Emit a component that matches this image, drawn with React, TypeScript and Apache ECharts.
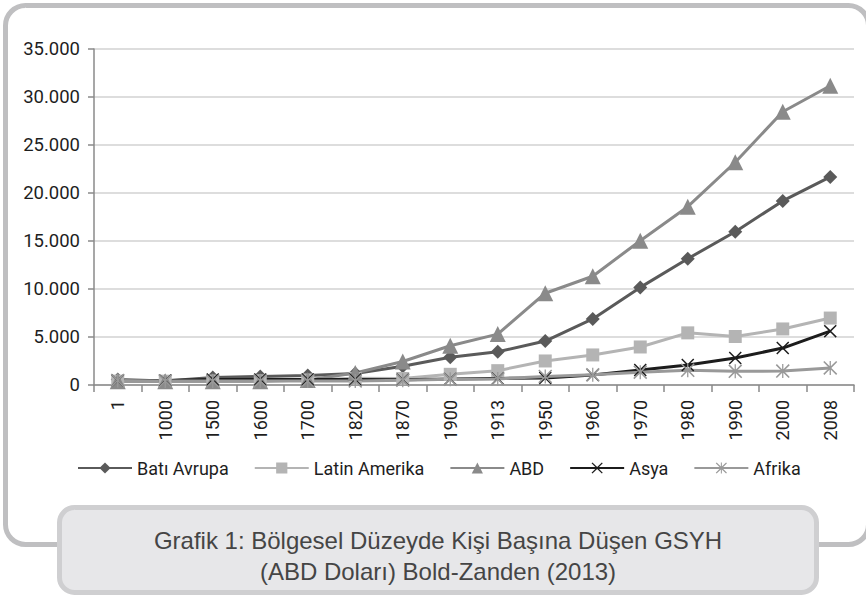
import React, { useEffect, useRef } from "react";
import * as echarts from "echarts";

const categories = ["1", "1000", "1500", "1600", "1700", "1820", "1870", "1900", "1913", "1950", "1960", "1970", "1980", "1990", "2000", "2008"];
const batiAvrupa = [576, 427, 771, 889, 997, 1202, 1960, 2885, 3457, 4578, 6880, 10167, 13154, 15966, 19176, 21672];
const latinAmerika = [400, 400, 416, 438, 527, 691, 676, 1113, 1494, 2503, 3131, 3960, 5431, 5053, 5838, 6973];
const abd = [400, 400, 400, 400, 527, 1257, 2445, 4091, 5301, 9561, 11328, 15030, 18577, 23201, 28467, 31178];
const asya = [456, 470, 568, 574, 572, 581, 556, 638, 680, 730, 1040, 1560, 2080, 2810, 3850, 5611];
const afrika = [472, 425, 414, 422, 421, 420, 500, 601, 637, 889, 1055, 1335, 1536, 1425, 1447, 1780];
const seriesNames = ["Batı Avrupa", "Latin Amerika", "ABD", "Asya", "Afrika"];
const captionLines = ["Grafik 1: Bölgesel Düzeyde Kişi Başına Düşen GSYH", "(ABD Doları) Bold-Zanden (2013)"];

const NARROW = 'Roboto, "Liberation Sans", sans-serif';

const X_PATH = "path://M0,1.6L1.6,0L10,8.4L18.4,0L20,1.6L11.6,10L20,18.4L18.4,20L10,11.6L1.6,20L0,18.4L8.4,10Z";
const STAR_PATH = "path://M0,1.6L1.6,0L10,8.4L18.4,0L20,1.6L11.6,10L20,18.4L18.4,20L10,11.6L1.6,20L0,18.4L8.4,10Z M9.1,0L10.9,0L10.9,20L9.1,20Z";

export default function App() {
  const ref = useRef<HTMLDivElement>(null);
  useEffect(() => {
    if (!ref.current) return;
    const chart = echarts.init(ref.current, null, { renderer: "svg" });
    const mk = (name: string, data: number[], color: string, symbol: string, size: number) => ({
      name,
      type: "line",
      data,
      symbol,
      symbolSize: size,
      lineStyle: { color, width: 3 },
      itemStyle: { color, borderWidth: 0 },
      emphasis: { disabled: true },
    });
    chart.setOption({
      animation: false,
      backgroundColor: "#ffffff",
      grid: { left: 94, right: 12, top: 49, bottom: 215, containLabel: false },
      legend: {
        left: 72,
        top: 454,
        width: 790,
        itemWidth: 54,
        itemHeight: 14,
        itemGap: 25,
        textStyle: { fontSize: 18, fontFamily: NARROW, color: "#1e1e1e" },
        data: seriesNames,
      },
      xAxis: {
        type: "category",
        data: categories,
        boundaryGap: true,
        axisLine: { lineStyle: { color: "#8a8a8a", width: 1.5 } },
        axisTick: { show: true, interval: 0, length: 7, lineStyle: { color: "#8a8a8a", width: 1.5 } },
        axisLabel: { rotate: 90, interval: 0, margin: 15, fontSize: 18, fontFamily: NARROW, color: "#1e1e1e" },
        splitLine: { show: false },
      },
      yAxis: {
        type: "value",
        min: 0,
        max: 35000,
        interval: 5000,
        axisLine: { show: true, lineStyle: { color: "#8a8a8a", width: 1.5 } },
        axisTick: { show: true, length: 6, lineStyle: { color: "#8a8a8a", width: 1.5 } },
        axisLabel: {
          margin: 14,
          fontSize: 18.5,
          fontFamily: NARROW,
          color: "#1e1e1e",
          formatter: (v: number) => String(v).replace(/\B(?=(\d{3})+(?!\d))/g, "."),
        },
        splitLine: { show: true, lineStyle: { color: "#d2d2d2", width: 1.5 } },
      },
      series: [
        mk(seriesNames[0], batiAvrupa, "#5a5a5a", "diamond", 14),
        mk(seriesNames[1], latinAmerika, "#b4b4b4", "rect", 13),
        mk(seriesNames[2], abd, "#8a8a8a", "triangle", 16),
        mk(seriesNames[3], asya, "#1c1c1c", X_PATH, 13),
        mk(seriesNames[4], afrika, "#999999", STAR_PATH, 14),
      ],
      graphic: [
        {
          type: "rect",
          z: -10,
          silent: true,
          shape: { x: 5.5, y: 5.5, width: 863, height: 539, r: 20 },
          style: { fill: "none", stroke: "#bfbfc1", lineWidth: 5 },
        },
        {
          type: "rect",
          z: 10,
          silent: true,
          shape: { x: 59.5, y: 507.5, width: 757, height: 85, r: 15 },
          style: { fill: "#e7e7e9", stroke: "#cfcfd1", lineWidth: 5 },
        },
        {
          type: "text",
          z: 11,
          silent: true,
          x: 438,
          y: 540,
          style: {
            text: captionLines[0],
            textAlign: "center",
            textVerticalAlign: "middle",
            fontSize: 24,
            fontFamily: '"Liberation Sans", Arial, sans-serif',
            fill: "#454545",
          },
        },
        {
          type: "text",
          z: 11,
          silent: true,
          x: 438,
          y: 571,
          style: {
            text: captionLines[1],
            textAlign: "center",
            textVerticalAlign: "middle",
            fontSize: 24,
            fontFamily: '"Liberation Sans", Arial, sans-serif',
            fill: "#454545",
          },
        },
      ],
    });
    return () => chart.dispose();
  }, []);
  return <div ref={ref} style={{ position: "fixed", left: 0, top: 0, width: 866, height: 600 }} />;
}
